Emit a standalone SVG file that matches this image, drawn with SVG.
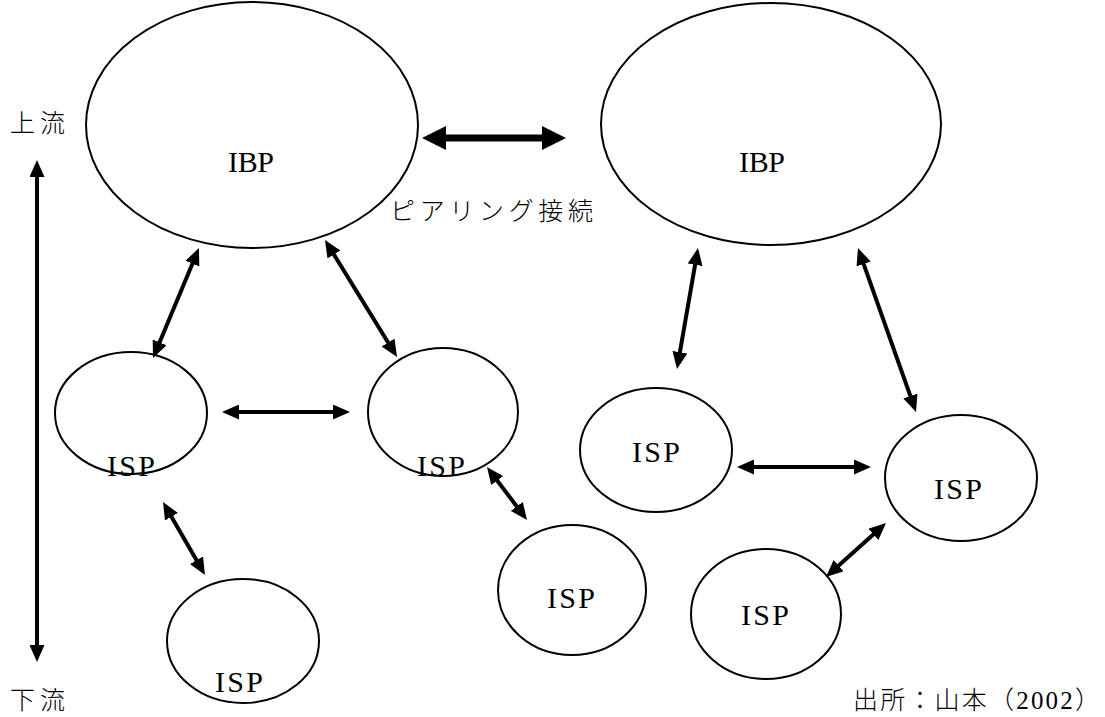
<svg xmlns="http://www.w3.org/2000/svg" width="1105" height="717" viewBox="0 0 1105 717">
<style>
.node{fill:#fff;stroke:#000;stroke-width:2}
.lat{font-family:"Liberation Serif","DejaVu Serif",serif;font-size:30px;fill:#000;text-anchor:middle}
.jp{font-family:"Liberation Serif","Noto Sans CJK JP",sans-serif;font-size:25px;font-weight:300;fill:#000}
.a{stroke:#000;stroke-width:4;fill:none;marker-start:url(#h);marker-end:url(#h)}
.ab{stroke:#000;stroke-width:7;fill:none;marker-start:url(#hb);marker-end:url(#hb)}
</style>
<defs>
<marker id="h" markerUnits="userSpaceOnUse" viewBox="0 0 17 15" refX="7" refY="7.5" markerWidth="17" markerHeight="15" orient="auto-start-reverse"><path d="M0,0 L17,7.5 L0,15 z" fill="#000"/></marker>
<marker id="hb" markerUnits="userSpaceOnUse" viewBox="0 0 24 24" refX="10" refY="12" markerWidth="24" markerHeight="24" orient="auto-start-reverse"><path d="M0,0 L24,12 L0,24 z" fill="#000"/></marker>
</defs>
<rect width="1105" height="717" fill="#fff"/>
<g id="ibp-left"><ellipse class="node" cx="252" cy="125" rx="166" ry="123"/><text class="lat" x="251" y="172" textLength="46" lengthAdjust="spacing">IBP</text></g>
<g id="ibp-right"><ellipse class="node" cx="771" cy="124" rx="170" ry="121"/><text class="lat" x="762" y="172" textLength="46" lengthAdjust="spacing">IBP</text></g>
<g id="isp1"><ellipse class="node" cx="131" cy="413" rx="76" ry="61"/><text class="lat" x="131" y="476" textLength="48" lengthAdjust="spacing">ISP</text></g>
<g id="isp2"><ellipse class="node" cx="443" cy="412" rx="75" ry="64"/><text class="lat" x="441" y="476" textLength="48" lengthAdjust="spacing">ISP</text></g>
<g id="isp3"><ellipse class="node" cx="243" cy="641" rx="76" ry="62"/><text class="lat" x="239" y="692" textLength="48" lengthAdjust="spacing">ISP</text></g>
<g id="isp4"><ellipse class="node" cx="572" cy="590" rx="74" ry="65"/><text class="lat" x="571" y="608" textLength="48" lengthAdjust="spacing">ISP</text></g>
<g id="isp5"><ellipse class="node" cx="656" cy="450" rx="76" ry="62"/><text class="lat" x="656" y="462" textLength="48" lengthAdjust="spacing">ISP</text></g>
<g id="isp6"><ellipse class="node" cx="961" cy="478" rx="76" ry="63"/><text class="lat" x="958" y="499" textLength="48" lengthAdjust="spacing">ISP</text></g>
<g id="isp7"><ellipse class="node" cx="766" cy="614" rx="75" ry="65"/><text class="lat" x="765" y="625" textLength="48" lengthAdjust="spacing">ISP</text></g>
<g id="labels">
<text class="jp" x="10" y="132" textLength="55" lengthAdjust="spacing">上流</text>
<text class="jp" x="10" y="709" textLength="55" lengthAdjust="spacing">下流</text>
<text class="jp" x="390" y="220" font-size="27" textLength="203" lengthAdjust="spacing">ピアリング接続</text>
<text class="jp" x="853" y="709" font-size="23" textLength="247" lengthAdjust="spacing">出所：山本（2002）</text>
</g>
<g id="connectors">
<line class="a" x1="37" y1="170" x2="37" y2="652"/>
<line class="ab" x1="436" y1="138" x2="552" y2="138"/>
<line class="a" x1="195.1" y1="257.2" x2="156.9" y2="348.8"/>
<line class="a" x1="330.2" y1="248.5" x2="391.8" y2="348.5"/>
<line class="a" x1="232" y1="412" x2="340" y2="412"/>
<line class="a" x1="168" y1="510.7" x2="200" y2="566.3"/>
<line class="a" x1="493" y1="475" x2="521" y2="512"/>
<line class="a" x1="696.3" y1="257.9" x2="678.7" y2="359.1"/>
<line class="a" x1="861.3" y1="257.4" x2="912.7" y2="402.6"/>
<line class="a" x1="747" y1="467" x2="861" y2="467"/>
<line class="a" x1="878.6" y1="529.7" x2="833.4" y2="570.3"/>
</g>
</svg>
